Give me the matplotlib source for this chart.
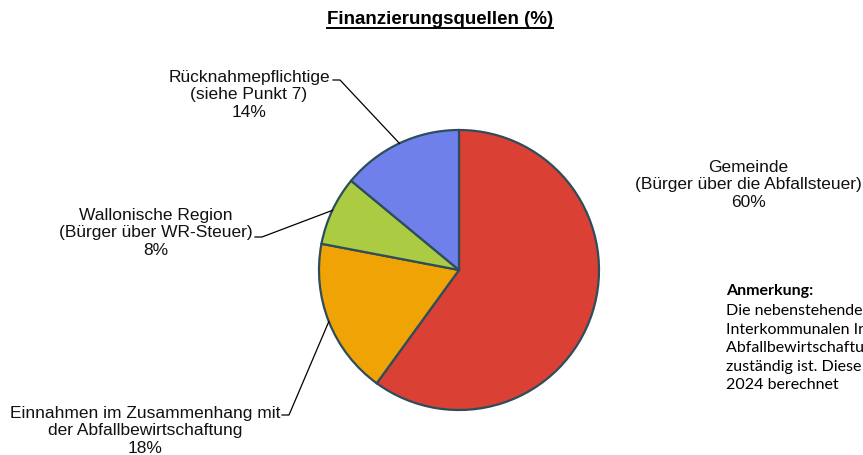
import numpy as np
import matplotlib.pyplot as plt

# data
labels = ["Gemeinde\n(Bürger über die Abfallsteuer)",
          "Einnahmen im Zusammenhang mit\nder Abfallbewirtschaftung",
          "Wallonische Region\n(Bürger über WR-Steuer)",
          "Rücknahmepflichtige\n(siehe Punkt 7)"]
shares = [60, 18, 8, 14]
colors = ["#DA4033", "#EFA305", "#ABCB42", "#6F80EA"]

title = "Finanzierungsquellen (%)"
note_head = "Anmerkung:"
note_lines = ["Die nebenstehenden Daten wurden von der",
              "Interkommunalen Interessengemeinschaft für",
              "Abfallbewirtschaftung, die für die Gemeinde",
              "zuständig ist. Diese Daten wurden für",
              "2024 berechnet"]

W, H = 863, 455
plt.rcParams['font.family'] = ['Liberation Sans', 'DejaVu Sans']

fig = plt.figure(figsize=(W / 100, H / 100), dpi=100)
ax = fig.add_axes([0, 0, 1, 1])

cx, cy, r = 459, H - 270, 140
wedges, _ = ax.pie(shares, colors=colors, startangle=90, counterclock=False,
                   center=(cx, cy), radius=r, frame=True,
                   wedgeprops=dict(edgecolor="#2E4D5C", linewidth=1.6))
ax.set_xlim(0, W); ax.set_ylim(0, H)
ax.set_aspect("equal"); ax.axis("off")

# label centre (x, y of middle line, image px) and leader start
label_pos = [(748, 185, None),
             (145, 431, (282, 415)),
             (156, 233, (255, 237)),
             (249, 95, (333, 80))]

for w, lab, val, (tx, ty, lead) in zip(wedges, labels, shares, label_pos):
    ax.text(tx, H - ty, f"{lab}\n{val}%", ha="center", va="center",
            fontsize=12.5, linespacing=1.22, color="#111111")
    if lead is not None:
        mid = np.deg2rad((w.theta1 + w.theta2) / 2)
        ex, ey = cx + r * np.cos(mid), cy + r * np.sin(mid)
        lx, ly = lead
        ax.plot([lx, lx + 7, ex], [H - ly, H - ly, ey], color="black", lw=0.9)

# title with underline
t = ax.text(440, H - 20, title, ha="center", va="center",
            fontsize=13.5, fontweight="bold")
fig.canvas.draw()
bb = t.get_window_extent().transformed(ax.transData.inverted())
ax.plot([bb.x0, bb.x1], [bb.y0 + 1, bb.y0 + 1], color="black", lw=1.4)

# note on the right (cut by figure edge)
note_font = ["Lato", "DejaVu Sans"]
ax.text(726, H - 291, note_head, ha="left", va="center", fontsize=11.5,
        fontweight="bold", family=note_font)
for i, line in enumerate(note_lines):
    ax.text(726, H - (311 + 18.6 * i), line, ha="left", va="center",
            fontsize=11.5, family=note_font)

fig.savefig("out.png", dpi=100, facecolor="white")
